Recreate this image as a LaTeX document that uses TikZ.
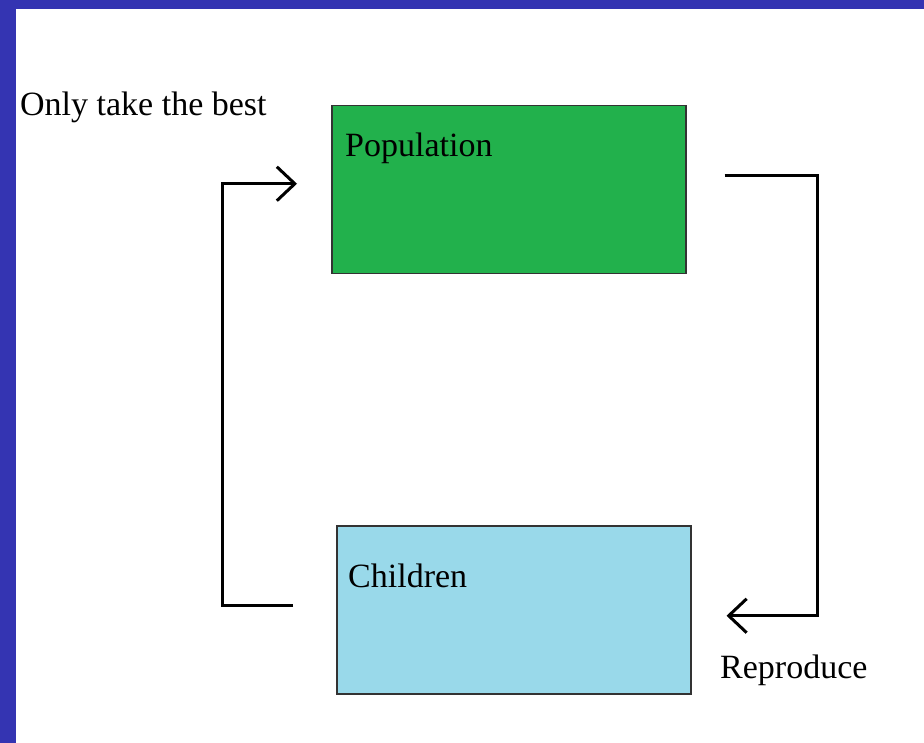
\documentclass[tikz,border=0pt]{standalone}
\usepackage{fontspec}
\setmainfont{Liberation Serif}
\usetikzlibrary{arrows.meta,positioning}

\definecolor{framebar}{HTML}{3434B2}
\definecolor{popgreen}{HTML}{22B14C}
\definecolor{kidblue}{HTML}{99D9EA}

\begin{document}
\begin{tikzpicture}[
  x=1pt,y=-1pt,
  box/.style={draw=black!80,line width=1.5pt,minimum width=354pt,minimum height=168pt,inner sep=0pt},
  word/.style={font=\fontsize{34}{40}\selectfont,anchor=base west,inner sep=0pt},
  flow/.style={line width=3pt,-{Straight Barb[length=18pt,width=34pt,line width=3pt]}}
]
  \useasboundingbox (0,0) rectangle (924,743);
  \fill[framebar] (0,0) rectangle (924,9);
  \fill[framebar] (0,0) rectangle (16,743);

  \node[box,fill=popgreen,anchor=north west] (population) at (331,105) {};
  \node[box,fill=kidblue,anchor=north west] (children) at (336,525) {};

  \node[word] (poplabel) at ([xshift=14pt,yshift=-52pt]population.north west) {Population};
  \node[word] (kidlabel) at ([xshift=12pt,yshift=-62pt]children.north west) {Children};
  \node[word] (best) at (20,116) {Only take the best};
  \node[word] (reproduce) at (720,678) {Reproduce};

  \draw[flow,shorten <=43pt,shorten >=34pt]
    ([yshift=4pt]children.west) -- ++(-114,0) |- ([yshift=6pt]population.west);
  \draw[flow,shorten <=38pt,shorten >=35pt]
    ([yshift=14pt]population.east) -- ++(131,0) |- ([yshift=-6pt]children.east);
\end{tikzpicture}
\end{document}
